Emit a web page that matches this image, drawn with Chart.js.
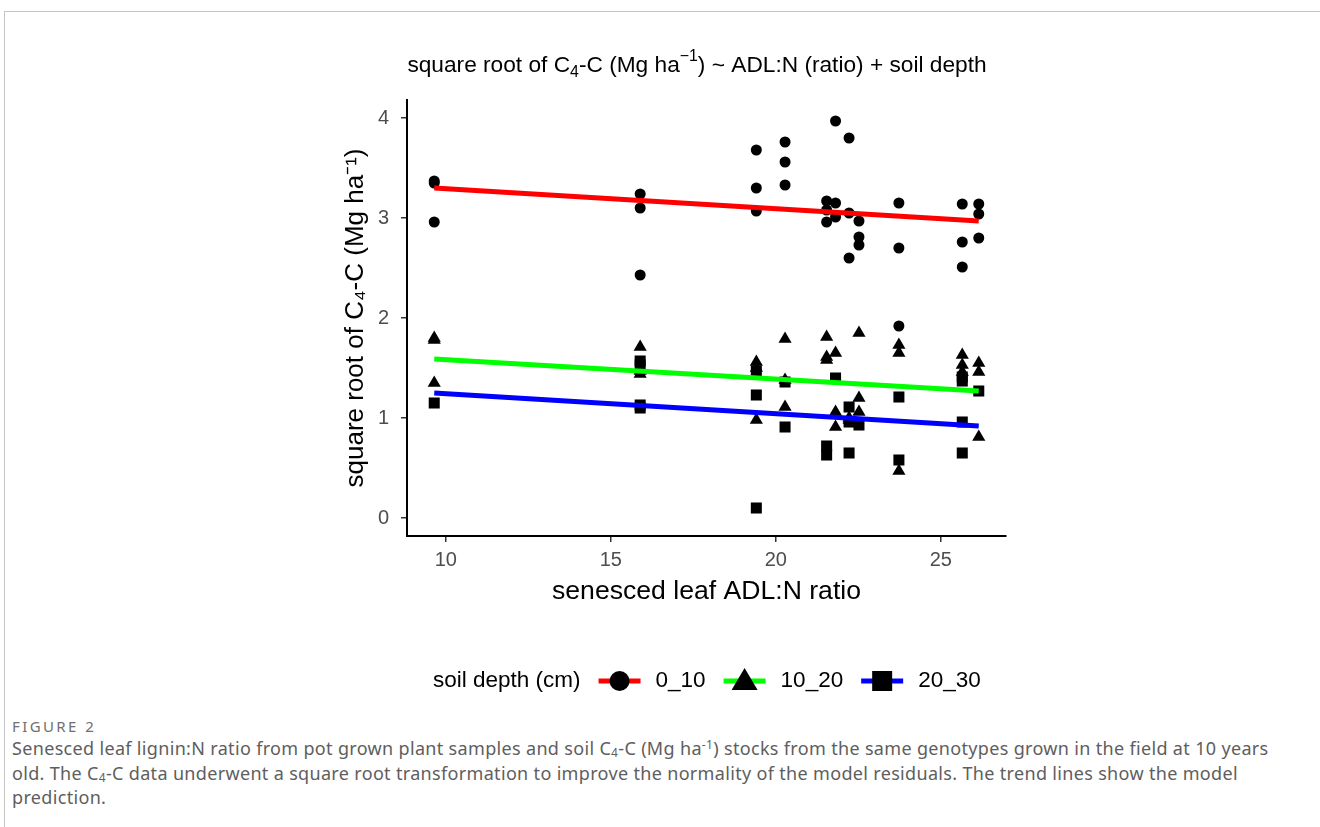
<!DOCTYPE html>
<html>
<head>
<meta charset="utf-8">
<script src="https://cdn.jsdelivr.net/npm/chart.js@4.4.1/dist/chart.umd.min.js"></script>
<style>
  body { margin: 0; background: #fff; width: 1320px; height: 827px; overflow: hidden; position: relative; }
  #frame { position: absolute; left: 4px; top: 11px; width: 1340px; height: 840px; border-left: 1px solid #c4c4c4; border-top: 1px solid #c4c4c4; }
  #chart { position: absolute; left: 0; top: 0; }
  #caption { position: absolute; left: 12px; top: 716px; font-family: "Noto Sans", sans-serif; color: #5e5e5e; font-size: 18px; letter-spacing: 0.33px; line-height: 24.5px; white-space: nowrap; }
  #caption .fig { font-size: 15px; color: #707070; letter-spacing: 2.4px; line-height: 20px; }
  #caption sub { font-size: 12px; vertical-align: -2px; line-height: 0; }
  #caption sup { font-size: 12px; vertical-align: 6px; line-height: 0; }
</style>
</head>
<body>
<div id="frame"></div>
<canvas id="chart" width="1320" height="710"></canvas>
<div id="caption">
  <div class="fig">FIGURE 2</div>
  <div>Senesced leaf lignin:N ratio from pot grown plant samples and soil C<sub>4</sub>-C (Mg ha<sup>-1</sup>) stocks from the same genotypes grown in the field at 10 years<br>
  old. The C<sub>4</sub>-C data underwent a square root transformation to improve the normality of the model residuals. The trend lines show the model<br>
  prediction.</div>
</div>
<script>
// senesced leaf ADL:N ratio of each genotype (x positions of the point columns)
const adlRatio = [9.65, 15.89, 19.41, 20.28, 21.54, 21.81, 22.22, 22.52, 23.73, 25.65, 26.15];

// square root of C4-C per genotype, one list per column above
const depth0_10 = [
    [3.35, 3.37, 2.96], [3.24, 3.10, 2.43], [3.68, 3.30, 3.07], [3.76, 3.56, 3.33],
    [3.17, 3.08, 2.96], [3.97, 3.15, 3.01], [3.80, 3.05, 2.60], [2.97, 2.81, 2.73],
    [3.15, 2.70, 1.92], [3.14, 2.76, 2.51], [3.14, 3.04, 2.80]
];
const depth10_20 = [
    [1.80, 1.78, 1.35], [1.71, 1.47, 1.44], [1.56, 1.50, 0.98], [1.79, 1.38, 1.11],
    [1.81, 1.61, 1.58], [1.65, 1.06, 0.91], [0.98, 1.00], [1.85, 1.20, 1.06],
    [1.73, 1.65, 0.47], [1.63, 1.53, 1.46], [1.55, 1.46, 0.81]
];
const depth20_30 = [
    [1.15], [1.57, 1.53, 1.13, 1.10], [1.47, 1.23, 0.10], [1.36, 0.91],
    [0.72, 0.63], [1.40], [1.11, 0.96, 0.65], [0.93],
    [1.21, 0.58], [1.41, 1.37, 0.96, 0.65], [1.27]
];

// model prediction at the ends of the ratio range
const trendX = [9.65, 26.15];
const trend0_10 = [3.30, 2.97];
const trend10_20 = [1.59, 1.27];
const trend20_30 = [1.25, 0.92];

const xTicks = [10, 15, 20, 25];
const yTicks = [0, 1, 2, 3, 4];
const depthLabels = ['0_10', '10_20', '20_30'];
const depthColors = ['#ff0000', '#00ff00', '#0000ff'];

function toPoints(cols) {
    return adlRatio.flatMap((x, i) => cols[i].map(y => ({ x: x, y: y })));
}

function trendLine(label, ys, color) {
    return {
        type: 'line',
        label: label,
        data: trendX.map((x, i) => ({ x: x, y: ys[i] })),
        borderColor: color,
        borderWidth: 5,
        borderCapStyle: 'butt',
        pointRadius: 0,
        fill: false,
        order: 0
    };
}

function pointSet(label, cols, style, r) {
    return {
        label: label,
        data: toPoints(cols),
        pointStyle: style,
        pointRadius: r,
        backgroundColor: '#000',
        borderColor: '#000',
        borderWidth: 0,
        order: 1
    };
}

// rich text with sub/superscripts: parts are [text, mode] with mode 0 normal, 1 sub, 2 sup
function drawRich(c, parts, cx, cy, size) {
    const fam = '"Liberation Sans", Arial, sans-serif';
    let total = 0;
    parts.forEach(p => {
        c.font = (p[1] ? size * 0.7 : size) + 'px ' + fam;
        total += c.measureText(p[0]).width;
    });
    let x = cx - total / 2;
    c.textAlign = 'left';
    c.textBaseline = 'middle';
    parts.forEach(p => {
        const s = p[1] ? size * 0.7 : size;
        c.font = s + 'px ' + fam;
        const dy = p[1] === 1 ? size * 0.3 : (p[1] === 2 ? -size * 0.4 : 0);
        c.fillText(p[0], x, cy + dy);
        x += c.measureText(p[0]).width;
    });
}

function drawGlyph(c, style, x, y) {
    c.fillStyle = '#000';
    c.beginPath();
    if (style === 'circle') {
        c.arc(x, y, 10, 0, Math.PI * 2);
    } else if (style === 'triangle') {
        c.moveTo(x, y - 13);
        c.lineTo(x + 13, y + 9);
        c.lineTo(x - 13, y + 9);
        c.closePath();
    } else {
        c.rect(x - 10, y - 10, 20, 20);
    }
    c.fill();
}

const ggDecor = {
    id: 'ggDecor',
    afterDraw(chart) {
        const c = chart.ctx;
        c.save();
        c.fillStyle = '#000';
        drawRich(c, [['square root of C', 0], ['4', 1], ['-C (Mg ha', 0], ['\u22121', 2],
            [') ~ ADL:N (ratio) + soil depth', 0]], 697, 66, 22.7);

        // legend along the bottom
        const fam = '"Liberation Sans", Arial, sans-serif';
        c.font = '22.5px ' + fam;
        c.textBaseline = 'middle';
        c.textAlign = 'left';
        const ly = 681;
        let x = 433;
        c.fillStyle = '#000';
        c.fillText('soil depth (cm)', x, ly);
        x += c.measureText('soil depth (cm)').width + 18;
        const styles = ['circle', 'triangle', 'rect'];
        depthLabels.forEach((lab, i) => {
            c.strokeStyle = depthColors[i];
            c.lineWidth = 5;
            c.beginPath();
            c.moveTo(x, ly);
            c.lineTo(x + 42, ly);
            c.stroke();
            drawGlyph(c, styles[i], x + 21, ly);
            c.fillStyle = '#000';
            c.font = '22.5px ' + fam;
            c.fillText(lab, x + 57, ly);
            x += 57 + c.measureText(lab).width + 18;
        });
        c.restore();
    }
};

const ctx = document.getElementById('chart').getContext('2d');

const chart = new Chart(ctx, {
    type: 'scatter',
    data: {
        datasets: [
            trendLine('0_10', trend0_10, depthColors[0]),
            trendLine('10_20', trend10_20, depthColors[1]),
            trendLine('20_30', trend20_30, depthColors[2]),
            pointSet('0_10', depth0_10, 'circle', 5.5),
            pointSet('10_20', depth10_20, 'triangle', 7.6),
            pointSet('20_30', depth20_30, 'rect', 7.8)
        ]
    },
    options: {
        responsive: false,
        animation: false,
        devicePixelRatio: 1,
        layout: { padding: { left: 330, right: 314, top: 100, bottom: 102 } },
        plugins: {
            legend: { display: false },
            tooltip: { enabled: false },
            title: { display: false }
        },
        scales: {
            x: {
                type: 'linear',
                min: 8.825,
                max: 26.975,
                afterBuildTicks: s => { s.ticks = xTicks.map(v => ({ value: v })); },
                afterFit: s => { s.height = 72; },
                grid: { drawOnChartArea: false, drawTicks: true, tickLength: 6, color: '#333', lineWidth: 1.5 },
                border: { display: true, color: '#000', width: 2 },
                ticks: { color: '#4d4d4d', font: { size: 20, family: '"Liberation Sans", Arial, sans-serif' }, padding: 6 },
                title: {
                    display: true,
                    text: 'senesced leaf ADL:N ratio',
                    color: '#000',
                    font: { size: 26.6, family: '"Liberation Sans", Arial, sans-serif' },
                    padding: { top: 0, bottom: 0 }
                }
            },
            y: {
                type: 'linear',
                min: -0.18,
                max: 4.18,
                afterBuildTicks: s => { s.ticks = yTicks.map(v => ({ value: v })); },
                afterFit: s => { s.width = 77; },
                grid: { drawOnChartArea: false, drawTicks: true, tickLength: 6, color: '#333', lineWidth: 1.5 },
                border: { display: true, color: '#000', width: 2 },
                ticks: { color: '#4d4d4d', font: { size: 20, family: '"Liberation Sans", Arial, sans-serif' }, padding: 12 },
                title: {
                    display: true,
                    text: 'square root of C\u2084-C (Mg ha\u207b\u00b9)',
                    color: '#000',
                    font: { size: 26, family: '"Liberation Sans", Arial, sans-serif' },
                    padding: { top: 10, bottom: 0 }
                }
            }
        }
    },
    plugins: [ggDecor]
});
</script>
</body>
</html>
